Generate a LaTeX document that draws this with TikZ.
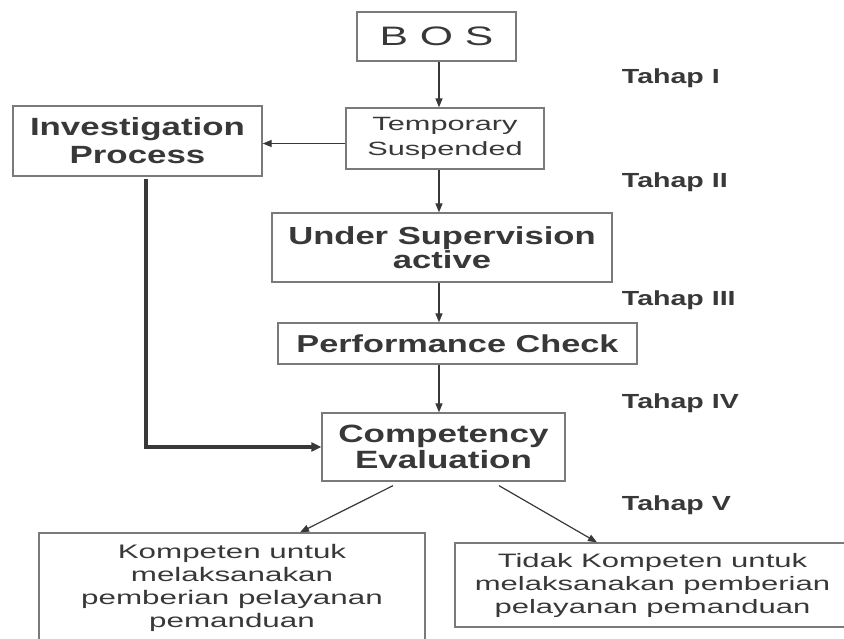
\documentclass[tikz,border=0pt]{standalone}
\usepackage{fontspec}
\setmainfont{Liberation Sans}[FakeStretch=1.4]
\newfontfamily\thinwide{Liberation Sans}[FakeStretch=1.6]
\usepackage{xcolor}
\definecolor{boxgray}{rgb}{0.48,0.48,0.48}
\definecolor{inkgray}{rgb}{0.22,0.22,0.22}
\usepackage{tikz}
\usetikzlibrary{arrows.meta}

\begin{document}
\begin{tikzpicture}
[->,
 >={Triangle[length=9pt,width=7pt]},
 x=1pt, y=-1pt,
 color=inkgray,
 line width=1.2pt,
 box/.style={draw=boxgray, line width=1.3pt, inner sep=0pt, align=center},
 tahap/.style={anchor=base west, font=\fontsize{20.4}{20}\selectfont\bfseries},
]

\useasboundingbox (0,0) rectangle (844,638);

\node[box, minimum width=159, minimum height=49,
      font=\thinwide\fontsize{26.7}{28}\selectfont] (bos) at (436.5,36.5) {B O S};
\node[box, minimum width=198, minimum height=61,
      font=\thinwide\fontsize{19.2}{25}\selectfont] (temp) at (445,138.5) {Temporary\\Suspended};
\node[box, minimum width=249, minimum height=70,
      font=\fontsize{24.9}{28}\selectfont\bfseries] (inv) at (137.5,141) {Investigation\\Process};
\node[box, minimum width=340, minimum height=69,
      font=\fontsize{24.7}{24}\selectfont\bfseries] (under) at (442,247.5) {Under Supervision\\active};
\node[box, minimum width=359, minimum height=41,
      font=\fontsize{24.5}{24}\selectfont\bfseries] (perf) at (457.5,343.5) {Performance Check};
\node[box, minimum width=243, minimum height=68,
      font=\fontsize{25}{26}\selectfont\bfseries] (comp) at (443.5,447) {Competency\\Evaluation};
\node[box, minimum width=386, minimum height=110,
      font=\thinwide\fontsize{19.6}{23}\selectfont] (komp) at (232,588) {Kompeten untuk\\melaksanakan\\pemberian pelayanan\\pemanduan};
\node[box, minimum width=395, minimum height=84,
      font=\thinwide\fontsize{19.4}{23}\selectfont] (tidak) at (652.5,585) {Tidak Kompeten untuk\\melaksanakan pemberian\\pelayanan pemanduan};

\node[tahap] (t1) at (618,83) {Tahap I};
\node[tahap] (t2) at (618,187) {Tahap II};
\node[tahap] (t3) at (618,305) {Tahap III};
\node[tahap] (t4) at (618,408) {Tahap IV};
\node[tahap] (t5) at (618,510) {Tahap V};

\coordinate (spine) at (439,0);
\coordinate (tl) at ([yshift=-5pt]temp.west);
\coordinate (invdrop) at (146,179);

\path
(bos.south -| spine)   edge (temp.north -| spine)
(tl)                   edge (tl -| inv.east)
(temp.south -| spine)  edge (under.north -| spine)
(under.south -| spine) edge (perf.north -| spine)
(perf.south -| spine)  edge (comp.north -| spine)
([xshift=-50.5pt,yshift=-4pt]comp.south) edge ([xshift=68pt]komp.north)
([xshift=55.5pt,yshift=-4pt]comp.south)  edge ([xshift=-55.5pt]tidak.north);

\draw[line width=4pt, >={Triangle[length=10pt,width=9pt]}]
(invdrop) |- (comp.west);
\end{tikzpicture}
\end{document}
